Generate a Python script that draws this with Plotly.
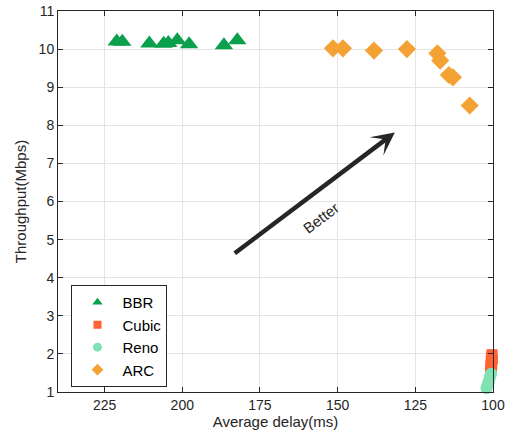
import plotly.graph_objects as go

# ---- data ----
bbr_delay = [221.1, 219.3, 210.6, 206.0, 204.5, 201.6, 197.8, 186.6, 182.3]
bbr_tput = [10.20, 10.19, 10.15, 10.14, 10.16, 10.23, 10.13, 10.10, 10.23]

cubic_delay = [100.3, 100.5, 100.2, 100.6, 100.4, 100.7, 100.5, 100.8]
cubic_tput = [1.98, 1.92, 1.86, 1.80, 1.74, 1.68, 1.62, 1.56]

reno_delay = [100.6, 100.9, 101.1, 101.4, 101.7, 101.9, 102.1]
reno_tput = [1.48, 1.42, 1.35, 1.28, 1.21, 1.15, 1.10]

arc_delay = [151.5, 148.3, 138.3, 127.7, 117.9, 117.0, 114.2, 112.9, 107.5]
arc_tput = [10.02, 10.02, 9.96, 10.00, 9.89, 9.70, 9.32, 9.26, 8.52]

names = ["BBR", "Cubic", "Reno", "ARC"]
colors = ["#0aa04c", "#ff6233", "#80e2b4", "#f4a234"]
symbols = ["triangle-up", "square", "circle", "diamond"]
sizes = [16, 11, 12, 14]
legend_sizes = [9, 8, 9, 9]

x_ticks = [225, 200, 175, 150, 125, 100]
y_ticks = list(range(1, 12))

arrow_tail = (183.6, 4.61)
arrow_head = (131.6, 7.81)
label_pos = (155.2, 5.57)

series = [(bbr_delay, bbr_tput), (cubic_delay, cubic_tput),
          (reno_delay, reno_tput), (arc_delay, arc_tput)]

fig = go.Figure()
for (xs, ys), n, c, s, sz in zip(series, names, colors, symbols, sizes):
    fig.add_trace(go.Scatter(x=xs, y=ys, mode="markers", name=n, showlegend=False,
                             cliponaxis=False,
                             marker=dict(symbol=s, color=c, size=sz, line=dict(width=0))))
# legend entries with smaller markers (like the reference)
for n, c, s, lsz in zip(names, colors, symbols, legend_sizes):
    fig.add_trace(go.Scatter(x=[None], y=[None], mode="markers", name=n,
                             marker=dict(symbol=s, color=c, size=lsz, line=dict(width=0))))

fig.add_annotation(x=arrow_head[0], y=arrow_head[1], ax=arrow_tail[0], ay=arrow_tail[1],
                   xref="x", yref="y", axref="x", ayref="y", text="",
                   showarrow=True, arrowhead=3, arrowsize=0.85, arrowwidth=4.5,
                   arrowcolor="#262626", standoff=0)
fig.add_annotation(x=label_pos[0], y=label_pos[1], xref="x", yref="y", text="Better",
                   showarrow=False, textangle=-37,
                   font=dict(size=15, color="#262626"))

axis_common = dict(showline=True, linecolor="#262626", linewidth=1, mirror="ticks",
                   ticks="inside", ticklen=5, tickcolor="#262626",
                   showgrid=True, gridcolor="#e5e5e5", gridwidth=1, zeroline=False,
                   automargin=False,
                   tickfont=dict(size=14, color="#262626"))

fig.update_layout(
    width=513, height=441,
    margin=dict(l=58, r=19.5, t=11, b=49),
    paper_bgcolor="white", plot_bgcolor="white",
    font=dict(family="Liberation Sans, Arial, sans-serif", color="#262626"),
    xaxis=dict(range=[240, 100], tickvals=x_ticks,
               title=dict(text="Average delay(ms)", font=dict(size=15, color="#262626"), standoff=4),
               **axis_common),
    yaxis=dict(range=[1, 11], tickvals=y_ticks,
               title=dict(text="Throughput(Mbps)", font=dict(size=15, color="#262626"), standoff=8),
               **axis_common),
    legend=dict(x=0.031, y=0.281, xanchor="left", yanchor="top",
                bgcolor="white", bordercolor="#262626", borderwidth=1,
                font=dict(size=15, color="#000000"), itemwidth=40,
                tracegroupgap=0),
)

# remove the browser's default 8px body margin so the figure fills the window exactly
fig.write_html("out.html", config={"displayModeBar": False},
               post_script="document.body.style.margin='0px';document.body.style.overflow='hidden';")
